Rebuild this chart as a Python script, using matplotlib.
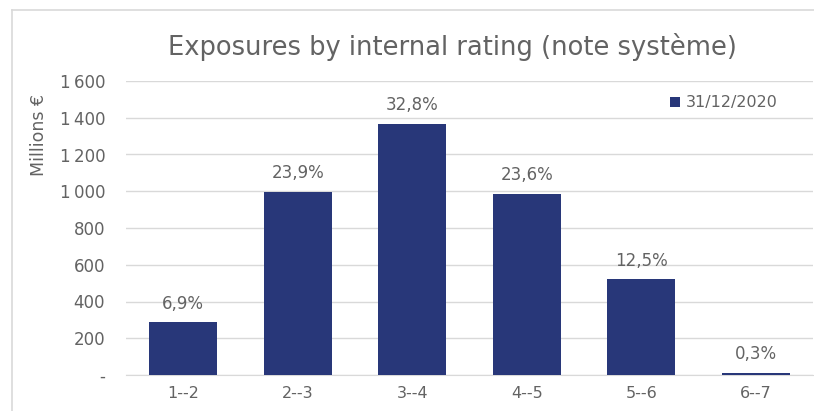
import matplotlib.pyplot as plt
from matplotlib.lines import Line2D
from matplotlib.ticker import FuncFormatter

# Exposures per internal rating bucket, millions of euros
categories = ["1--2", "2--3", "3--4", "4--5", "5--6", "6--7"]
exposures = [287, 996, 1368, 984, 521, 13]
shares = ["6,9%", "23,9%", "32,8%", "23,6%", "12,5%", "0,3%"]
series_name = "31/12/2020"
y_ticks = [0, 200, 400, 600, 800, 1000, 1200, 1400, 1600]

NAVY = "#283779"
TEXT = "#636363"
GRID = "#d9d9d9"

plt.rcParams["font.family"] = ["DejaVu Sans"]


def fmt_millions(v, pos):
    if v == 0:
        return "-"
    return f"{int(v):,}".replace(",", "\u2009")


fig = plt.figure(figsize=(8.14, 4.11), dpi=100)
ax = fig.add_axes([126 / 814, 36 / 411, 687 / 814, 294 / 411])

x = range(len(categories))
bars = ax.bar(x, exposures, width=0.59, color=NAVY, label=series_name, zorder=3)

for rect, txt in zip(bars, shares):
    ax.annotate(txt, (rect.get_x() + rect.get_width() / 2, rect.get_height()),
                xytext=(0, 7), textcoords="offset points",
                ha="center", va="bottom", fontsize=12, color=TEXT)

ax.set_xlim(-0.5, len(categories) - 0.5)
ax.set_ylim(0, 1600)
ax.set_xticks(list(x))
ax.set_xticklabels(categories)
ax.set_yticks(y_ticks)
ax.yaxis.set_major_formatter(FuncFormatter(fmt_millions))
ax.tick_params(axis="both", length=0, labelcolor=TEXT)
ax.tick_params(axis="x", pad=8, labelsize=11.5)
ax.tick_params(axis="y", pad=15, labelsize=12)
ax.grid(axis="y", color=GRID, linewidth=1, zorder=0)
for side in ("top", "right", "left"):
    ax.spines[side].set_visible(False)
ax.spines["bottom"].set_color(GRID)

ax.set_ylabel("Millions €", fontsize=12.5, color=TEXT)
ax.yaxis.set_label_coords(-0.113, 0.816)

ax.legend(loc="upper right", bbox_to_anchor=(0.97, 1.0), frameon=False,
          fontsize=11.5, labelcolor=TEXT, handlelength=0.6, handleheight=0.6,
          handletextpad=0.4)

fig.text(0.5 * (165 + 740) / 814, 1 - 47 / 411,
         "Exposures by internal rating (note système)",
         ha="center", va="center", fontsize=18.5, color=TEXT)

# light chart-area border (top and left edges visible)
fig.add_artist(Line2D([12 / 814, 1], [1 - 10 / 411] * 2, color=GRID, linewidth=1.2))
fig.add_artist(Line2D([12 / 814] * 2, [0, 1 - 10 / 411], color=GRID, linewidth=1.2))

fig.savefig("out.png", dpi=100, facecolor="white")
